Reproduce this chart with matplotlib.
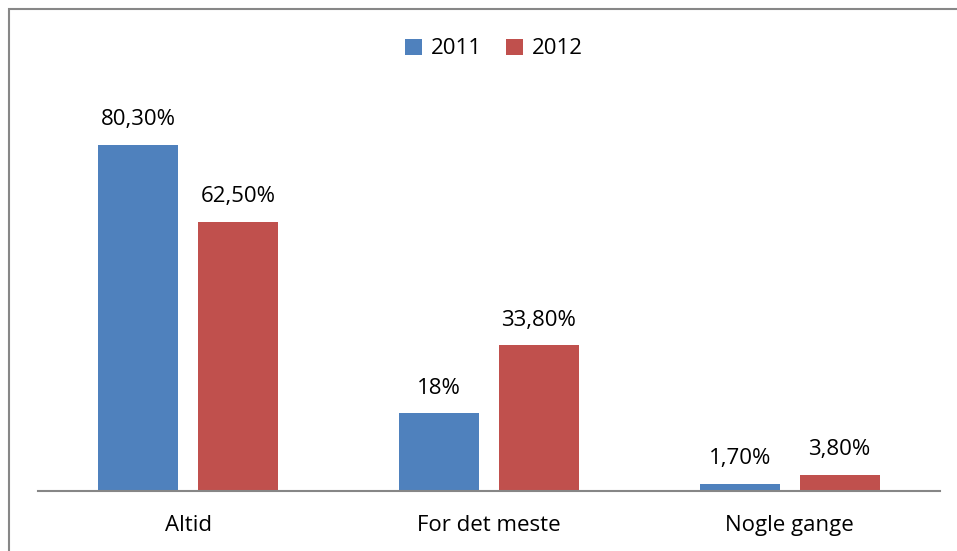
import numpy as np
import matplotlib.pyplot as plt
from matplotlib.patches import Rectangle

categories = ["Altid", "For det meste", "Nogle gange"]
years = ["2011", "2012"]
values_2011 = [80.3, 18.0, 1.7]
values_2012 = [62.5, 33.8, 3.8]
labels_2011 = ["80,30%", "18%", "1,70%"]
labels_2012 = ["62,50%", "33,80%", "3,80%"]

colors = ["#4F81BD", "#C0504D"]

plt.rcParams['font.family'] = ['Open Sans', 'DejaVu Sans']

fig = plt.figure(figsize=(9.57, 5.51), dpi=100)
ax = fig.add_axes([38 / 957, 60 / 551, 902 / 957, 431 / 551])

x = np.arange(len(categories))
width = 80 / 300.7
offset = 50 / 300.7

series = [(values_2011, labels_2011), (values_2012, labels_2012)]
for i, (vals, labs) in enumerate(series):
    pos = x + (offset if i else -offset)
    bars = ax.bar(pos, vals, width=width, color=colors[i], label=years[i])
    for b, lab in zip(bars, labs):
        ax.annotate(lab, (b.get_x() + b.get_width() / 2, b.get_height()),
                    xytext=(0, 10.5), textcoords='offset points',
                    ha='center', va='bottom', fontsize=16, color='black')

ax.set_xlim(-0.5, len(categories) - 0.5)
ax.set_ylim(0, 100)
ax.set_xticks(x)
ax.set_xticklabels(categories, fontsize=16)
ax.tick_params(axis='x', length=0, pad=17)
ax.set_yticks([])
for side in ['top', 'right', 'left']:
    ax.spines[side].set_visible(False)
ax.spines['bottom'].set_color('#868686')
ax.spines['bottom'].set_linewidth(1.5)

# legend centred at figure pixel (494, 49)
ax.legend(loc='center', bbox_to_anchor=(494 / 957, 1 - 49 / 551),
          bbox_transform=fig.transFigure,
          ncol=2, frameon=False, fontsize=16, handlelength=0.75, handleheight=0.75,
          handletextpad=0.4, columnspacing=1.1, borderaxespad=0)

# outer chart border
fig.patches.append(Rectangle((8.5 / 957, -0.1), 1.1, 1.1 - 9.5 / 551,
                             transform=fig.transFigure, fill=False,
                             edgecolor='#878787', linewidth=1.5))

fig.savefig('out.png', dpi=100)
